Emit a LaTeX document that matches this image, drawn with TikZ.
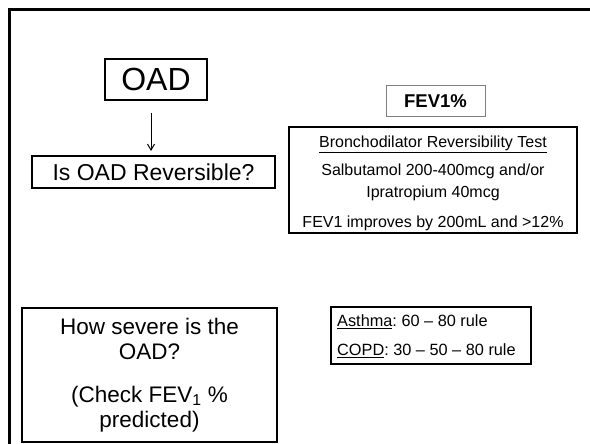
\documentclass[tikz,border=0pt]{standalone}
\usepackage{fontspec}
\setmainfont{Liberation Sans}
\usetikzlibrary{arrows.meta}
\tikzset{
  boxthin/.style={draw=black, line width=1.5pt, inner sep=0pt, align=center},
  boxthick/.style={draw=black, line width=1.9pt, inner sep=0pt, align=center},
  boxgray/.style={draw=black!50, line width=1pt, inner sep=0pt, align=center},
  plaintext/.style={inner sep=0pt},
  flowarrow/.style={line width=1pt, -{Straight Barb[length=6pt,width=7pt]}},
  frameline/.style={line width=3pt}
}
\frenchspacing
\begin{document}
\begin{tikzpicture}[x=1pt,y=-1pt]
\useasboundingbox (0,0) rectangle (590,444);
% outer frame (only top and left visible)
\draw[frameline] (9.5,446) -- (9.5,9.5) -- (592,9.5);

\node[boxthin, minimum width=102pt, minimum height=41pt,
      font=\fontsize{32}{36}\selectfont] (oad) at (156,79.5) {OAD};

\node[boxthin, minimum width=243pt, minimum height=32pt,
      font=\fontsize{23}{26}\selectfont] (rev) at (153.5,172) {Is OAD Reversible?};

\coordinate (a1) at (151,113);
\coordinate (a2) at (151,151);
\draw[flowarrow] (a1) -- (a2);

\node[boxgray, minimum width=99pt, minimum height=31pt,
      font=\fontsize{18.5}{22}\selectfont\bfseries] (fev) at (435.5,101.5) {FEV1\%};

\node[boxthick, minimum width=288pt, minimum height=106pt] (bdr) at (433,180) {};
\node[plaintext, align=center, font=\fontsize{16}{22}\selectfont] (bdrtext) at (433,183.5)
 {\underline{Bronchodilator Reversibility Test}\\[6pt]
Salbutamol 200-400mcg and/or\\
Ipratropium 40mcg\\[8pt]
FEV1 improves by 200mL and >12\%};

\node[boxthin, minimum width=255pt, minimum height=134pt,
      font=\fontsize{22.5}{25.5}\selectfont] (sev) at (149.5,375) {How severe is the\\
OAD?\\[17pt]
(Check FEV\textsubscript{1} \%\\
predicted)};

\node[boxthick, minimum width=200pt, minimum height=57pt] (rule) at (431,335.5) {};
\node[plaintext, anchor=west, align=left, font=\fontsize{16.3}{29}\selectfont] (ruletext) at (337,336)
 {\underline{Asthma}: 60 – 80 rule\\
\underline{COPD}: 30 – 50 – 80 rule};
\end{tikzpicture}
\end{document}
